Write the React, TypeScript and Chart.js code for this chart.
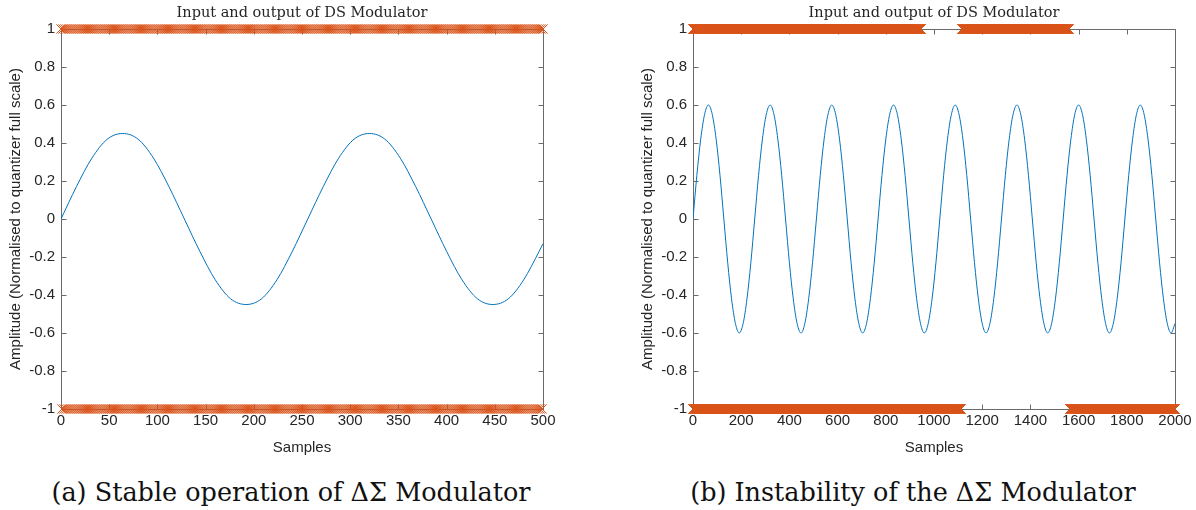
import React, { useEffect, useRef } from "react";
import { Chart, registerables } from "chart.js";

Chart.register(...registerables);

// ---------- data ----------
// Panel (a): input sine, sampled every 16 samples
const inputSamplesA: number[] = [
  0, 16, 32, 48, 64, 80, 96, 112, 128, 144, 160, 176, 192, 208, 224, 240,
  256, 272, 288, 304, 320, 336, 352, 368, 384, 400, 416, 432, 448, 464, 480, 496, 500,
];
const inputValuesA: number[] = [
  0, 0.17, 0.32, 0.42, 0.45, 0.42, 0.32, 0.17, 0, -0.17, -0.32, -0.42, -0.45, -0.42, -0.32, -0.17,
  0, 0.17, 0.32, 0.42, 0.45, 0.42, 0.32, 0.17, 0, -0.17, -0.32, -0.42, -0.45, -0.42, -0.32, -0.17, -0.13,
];

// Panel (b): input sine, sampled every 16 samples from 0 to 2000
const inputStepB = 16;
const inputValuesB: number[] = [
  0, 0.23, 0.42, 0.55, 0.6, 0.55, 0.42, 0.23, 0, -0.23, -0.42, -0.55, -0.6, -0.55, -0.42, -0.23,
  0, 0.23, 0.42, 0.55, 0.6, 0.55, 0.42, 0.23, 0, -0.23, -0.42, -0.55, -0.6, -0.55, -0.42, -0.23,
  0, 0.23, 0.42, 0.55, 0.6, 0.55, 0.42, 0.23, 0, -0.23, -0.42, -0.55, -0.6, -0.55, -0.42, -0.23,
  0, 0.23, 0.42, 0.55, 0.6, 0.55, 0.42, 0.23, 0, -0.23, -0.42, -0.55, -0.6, -0.55, -0.42, -0.23,
  0, 0.23, 0.42, 0.55, 0.6, 0.55, 0.42, 0.23, 0, -0.23, -0.42, -0.55, -0.6, -0.55, -0.42, -0.23,
  0, 0.23, 0.42, 0.55, 0.6, 0.55, 0.42, 0.23, 0, -0.23, -0.42, -0.55, -0.6, -0.55, -0.42, -0.23,
  0, 0.23, 0.42, 0.55, 0.6, 0.55, 0.42, 0.23, 0, -0.23, -0.42, -0.55, -0.6, -0.55, -0.42, -0.23,
  0, 0.23, 0.42, 0.55, 0.6, 0.55, 0.42, 0.23, 0, -0.23, -0.42, -0.55, -0.6, -0.55,
];

// Output bitstream: sample ranges [start, end, step] where the +1 / -1 markers appear
const outHighRangesA: number[][] = [[0, 500, 2]];
const outLowRangesA: number[][] = [[1, 499, 2]];
const outHighRangesB: number[][] = [[0, 946, 1], [1116, 1560, 1]];
const outLowRangesB: number[][] = [[0, 1112, 1], [1564, 2000, 1]];

// Axes / ticks
const yTicks: number[] = [-1, -0.8, -0.6, -0.4, -0.2, 0, 0.2, 0.4, 0.6, 0.8, 1];
const xTicksA: number[] = [0, 50, 100, 150, 200, 250, 300, 350, 400, 450, 500];
const xTicksB: number[] = [0, 200, 400, 600, 800, 1000, 1200, 1400, 1600, 1800, 2000];

const chartTitle = "Input and output of DS Modulator";
const xLabel = "Samples";
const yLabel = "Amplitude (Normalised to quantizer full scale)";
const captionA = "(a) Stable operation of ΔΣ Modulator";
const captionB = "(b) Instability of the ΔΣ Modulator";

// ---------- styling ----------
const BLUE = "#0072BD";
const ORANGE = "#D95319";
const TEXT = "#262626";
const AXIS = "#6a6a6a";
const SANS = "'Liberation Sans', Arial, Helvetica, sans-serif";
const SERIF = "'DejaVu Serif', 'Liberation Serif', serif";

function rangesToPoints(ranges: number[][], level: number) {
  const pts: { x: number; y: number }[] = [];
  for (const [s, e, step] of ranges) {
    for (let i = s; i <= e; i += step) pts.push({ x: i, y: level });
  }
  return pts;
}

const boxPlugin = {
  id: "matlabBox",
  beforeDatasetsDraw(chart: any) {
    const { ctx, chartArea } = chart;
    const { left, right, top, bottom } = chartArea;
    const xs = chart.scales.x;
    const ys = chart.scales.y;
    const L = Math.round(left) + 0.5;
    const R = Math.round(right) + 0.5;
    const T = Math.round(top) + 0.5;
    const B = Math.round(bottom) + 0.5;
    const tl = 5;
    ctx.save();
    ctx.strokeStyle = AXIS;
    ctx.lineWidth = 1;
    ctx.beginPath();
    ctx.rect(L, T, R - L, B - T);
    for (const t of xs.ticks) {
      const px = Math.round(xs.getPixelForValue(t.value)) + 0.5;
      ctx.moveTo(px, B);
      ctx.lineTo(px, B - tl);
      ctx.moveTo(px, T);
      ctx.lineTo(px, T + tl);
    }
    for (const t of ys.ticks) {
      const py = Math.round(ys.getPixelForValue(t.value)) + 0.5;
      ctx.moveTo(L, py);
      ctx.lineTo(L + tl, py);
      ctx.moveTo(R, py);
      ctx.lineTo(R - tl, py);
    }
    ctx.stroke();
    ctx.restore();
  },
};

function fmt(v: number) {
  const r = Math.round(v * 10) / 10;
  return String(r);
}

function markerSet(data: { x: number; y: number }[]) {
  return {
    data,
    showLine: false,
    pointStyle: "crossRot",
    pointRadius: 6.5,
    borderColor: ORANGE,
    backgroundColor: ORANGE,
    pointBorderWidth: 1,
    clip: false,
    order: 1,
  };
}

function makeConfig(
  inputPts: { x: number; y: number }[],
  high: { x: number; y: number }[],
  low: { x: number; y: number }[],
  xMax: number,
  xTicks: number[],
  padRight: number
): any {
  return {
    type: "scatter",
    data: {
      datasets: [
        {
          data: inputPts,
          showLine: true,
          borderColor: BLUE,
          borderWidth: 1,
          pointRadius: 0,
          cubicInterpolationMode: "monotone",
          fill: false,
          order: 2,
        },
        markerSet(high),
        markerSet(low),
      ],
    },
    options: {
      animation: false,
      responsive: false,
      maintainAspectRatio: false,
      events: [],
      layout: { padding: { left: 0, right: padRight, top: 0, bottom: 0 } },
      plugins: {
        legend: { display: false },
        tooltip: { enabled: false },
        title: {
          display: true,
          text: chartTitle,
          fullSize: false,
          color: TEXT,
          font: { family: SERIF, size: 14.5, weight: "normal", lineHeight: 1.2 },
          padding: { top: 5, bottom: 6.6 },
        },
      },
      scales: {
        x: {
          type: "linear",
          min: 0,
          max: xMax,
          afterBuildTicks: (s: any) => {
            s.ticks = xTicks.map((v) => ({ value: v }));
          },
          afterFit: (s: any) => {
            s.height = 61;
          },
          grid: { display: false, drawTicks: false },
          border: { display: false },
          ticks: {
            autoSkip: false,
            maxRotation: 0,
            color: TEXT,
            padding: 3,
            font: { family: SANS, size: 15 },
            callback: (v: any) => String(v),
          },
          title: {
            display: true,
            text: xLabel,
            color: TEXT,
            font: { family: SANS, size: 15, lineHeight: 1.2 },
            padding: { top: 0, bottom: 13 },
          },
        },
        y: {
          type: "linear",
          min: -1,
          max: 1,
          afterBuildTicks: (s: any) => {
            s.ticks = yTicks.map((v) => ({ value: v }));
          },
          afterFit: (s: any) => {
            s.width = 61;
          },
          grid: { display: false, drawTicks: false },
          border: { display: false },
          ticks: {
            color: TEXT,
            padding: 6,
            font: { family: SANS, size: 15 },
            callback: (v: any) => fmt(v),
          },
          title: {
            display: true,
            text: yLabel,
            color: TEXT,
            font: { family: SANS, size: 15, lineHeight: 1.2 },
            padding: { top: 7, bottom: 0 },
          },
        },
      },
    },
    plugins: [boxPlugin],
  };
}

function Panel(props: { left: number; width: number; config: () => any }) {
  const ref = useRef<HTMLCanvasElement | null>(null);
  useEffect(() => {
    if (!ref.current) return;
    const chart = new Chart(ref.current, props.config());
    return () => chart.destroy();
  }, []);
  return (
    <canvas
      ref={ref}
      width={props.width}
      height={470}
      style={{ position: "absolute", left: props.left, top: 0, width: props.width, height: 470 }}
    />
  );
}

export default function App() {
  const inputA = inputSamplesA.map((x, i) => ({ x, y: inputValuesA[i] }));
  const inputB = inputValuesB.map((y, i) => ({ x: i * inputStepB, y }));
  const cfgA = () =>
    makeConfig(inputA, rangesToPoints(outHighRangesA, 1), rangesToPoints(outLowRangesA, -1), 500, xTicksA, 37);
  const cfgB = () =>
    makeConfig(inputB, rangesToPoints(outHighRangesB, 1), rangesToPoints(outLowRangesB, -1), 2000, xTicksB, 21);
  const capStyle: React.CSSProperties = {
    position: "absolute",
    top: 476,
    fontFamily: SERIF,
    fontSize: 25.5,
    color: "#111",
    whiteSpace: "nowrap",
    textAlign: "center",
    lineHeight: "32px",
  };
  return (
    <div style={{ position: "absolute", left: 0, top: 0, width: 1196, height: 510, background: "#fff", overflow: "hidden" }}>
      <Panel left={0} width={580} config={cfgA} />
      <Panel left={632} width={564} config={cfgB} />
      <div style={{ ...capStyle, left: 0, width: 582 }}>{captionA}</div>
      <div style={{ ...capStyle, left: 626, width: 574 }}>{captionB}</div>
    </div>
  );
}
